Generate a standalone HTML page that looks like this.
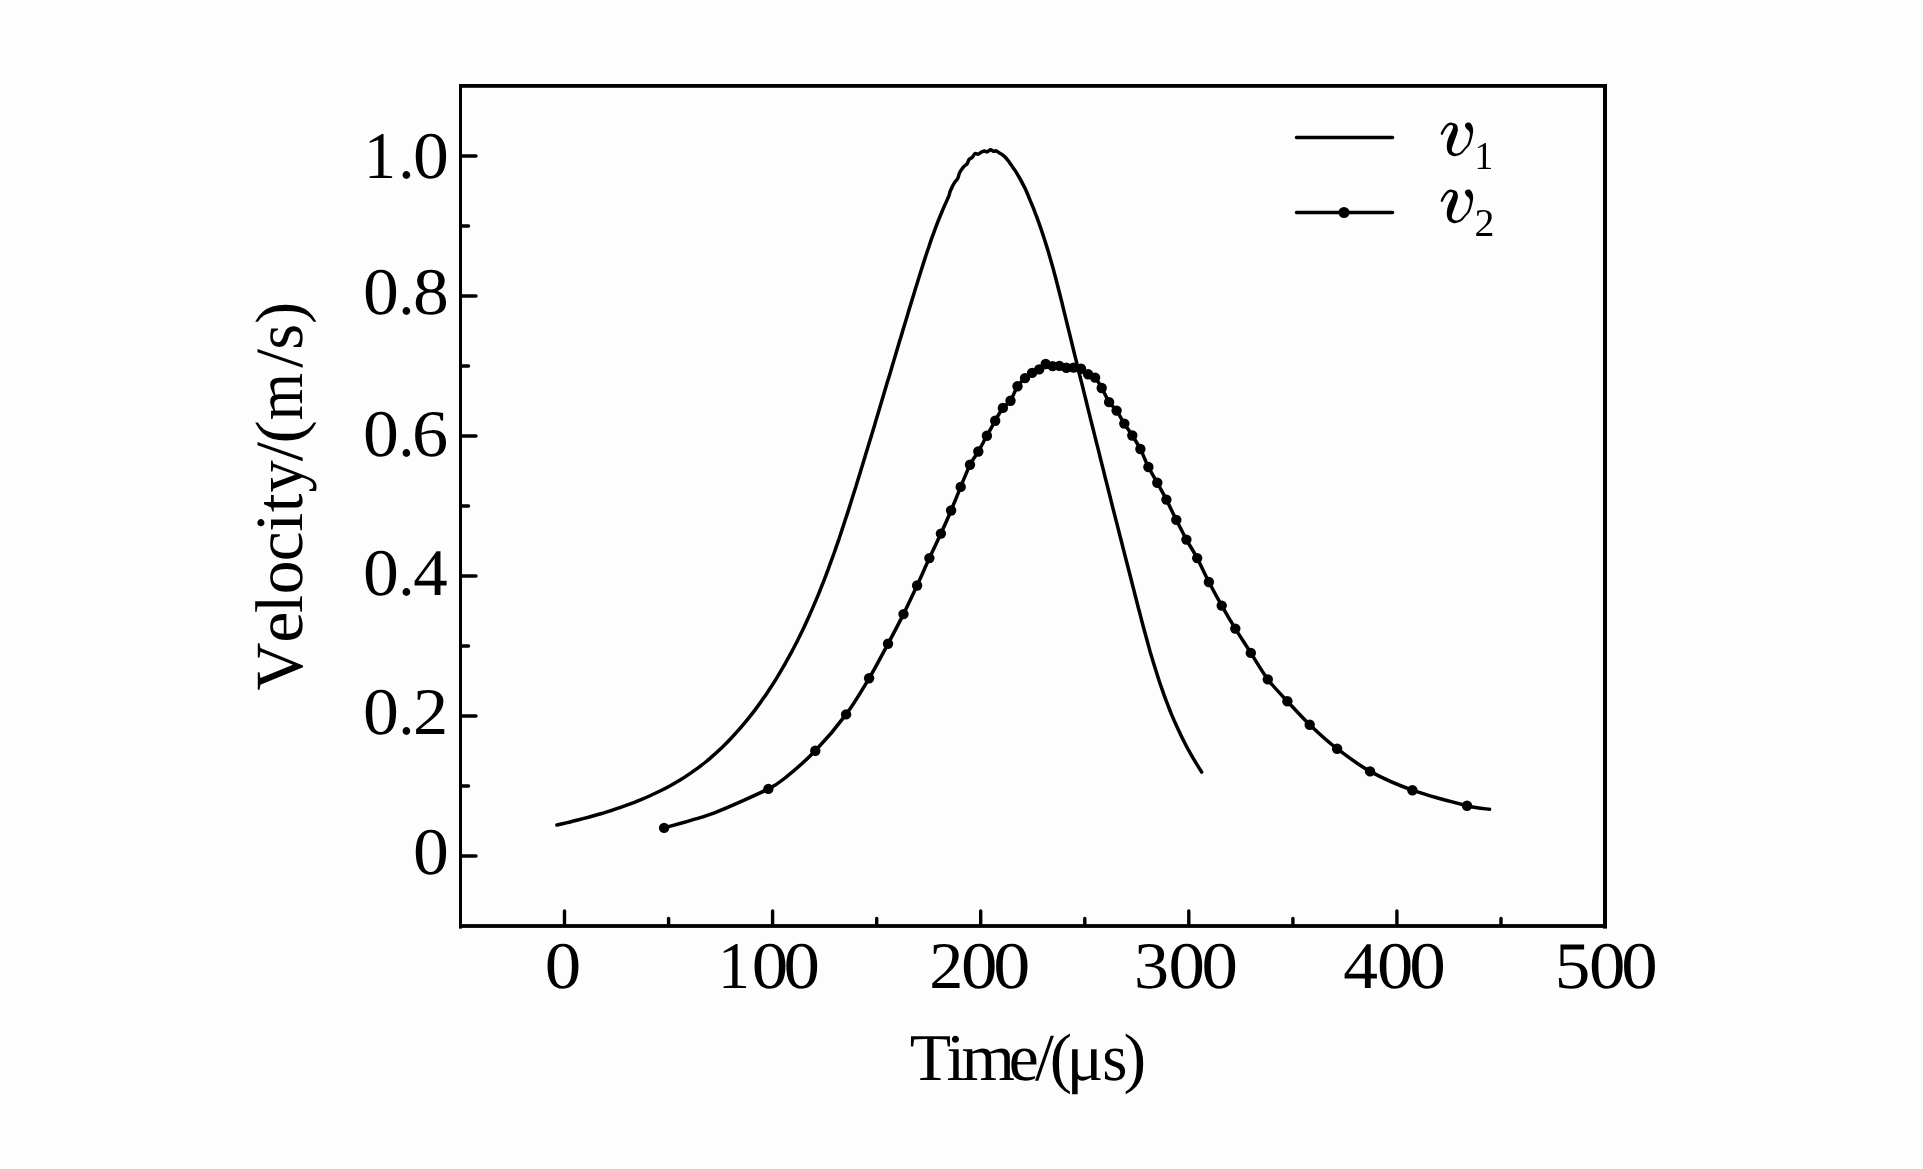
<!DOCTYPE html>
<html><head><meta charset="utf-8"><title>Velocity vs Time</title>
<style>
html,body{margin:0;padding:0;background:#fdfdfd;}
body{width:1923px;height:1169px;overflow:hidden;position:relative;font-family:"Liberation Serif",serif;}
svg{position:absolute;left:0;top:0;}
text{font-family:"Liberation Serif",serif;fill:#000;text-rendering:geometricPrecision;-webkit-font-smoothing:antialiased;}
</style></head><body>
<svg width="1923" height="1169" viewBox="0 0 1923 1169">
<g fill="#000" stroke="none"><rect x="459" y="84" width="3" height="844.6"/><rect x="459" y="84" width="1148" height="3.8"/><rect x="1603" y="84" width="4" height="844.6"/><rect x="459" y="924.1" width="1148" height="3.8"/></g><g stroke="#000" stroke-width="3.4" stroke-linecap="round" fill="none"><path d="M461,156.0H476.0"/><path d="M461,226.0H468.5"/><path d="M461,296.0H476.0"/><path d="M461,366.0H468.5"/><path d="M461,436.0H476.0"/><path d="M461,506.0H468.5"/><path d="M461,576.0H476.0"/><path d="M461,646.0H468.5"/><path d="M461,716.0H476.0"/><path d="M461,786.0H468.5"/><path d="M461,856.0H476.0"/><path d="M564.5,925V911.0"/><path d="M668.6,925V918.5"/><path d="M772.6,925V911.0"/><path d="M876.7,925V918.5"/><path d="M980.7,925V911.0"/><path d="M1084.8,925V918.5"/><path d="M1188.8,925V911.0"/><path d="M1292.9,925V918.5"/><path d="M1396.9,925V911.0"/><path d="M1501.0,925V918.5"/></g><g stroke="#000" stroke-width="3.5" stroke-linecap="round" stroke-linejoin="round" fill="none"><path d="M556.9,825.0C558.6,824.6 563.8,823.4 567.3,822.6C570.8,821.8 574.3,820.9 577.8,820.0C581.3,819.1 584.9,818.2 588.4,817.3C591.9,816.3 595.4,815.3 598.9,814.3C602.4,813.3 605.9,812.2 609.4,811.1C612.9,810.0 616.4,808.8 619.9,807.6C623.4,806.4 626.8,805.2 630.3,803.9C633.7,802.6 637.1,801.2 640.5,799.8C643.9,798.5 647.3,797.0 650.6,795.5C653.9,794.0 657.2,792.4 660.5,790.8C663.8,789.2 667.0,787.5 670.2,785.7C673.4,784.0 676.5,782.2 679.7,780.3C682.8,778.4 685.8,776.5 688.8,774.4C691.8,772.4 694.8,770.3 697.7,768.2C700.6,766.0 703.5,763.8 706.3,761.5C709.1,759.2 711.8,756.8 714.5,754.4C717.3,752.0 719.9,749.5 722.5,747.0C725.1,744.5 727.7,741.9 730.2,739.3C732.7,736.6 735.2,733.9 737.6,731.2C740.0,728.5 742.4,725.7 744.7,722.9C747.1,720.1 749.4,717.2 751.6,714.4C753.9,711.5 756.1,708.5 758.2,705.6C760.4,702.6 762.5,699.6 764.6,696.6C766.6,693.6 768.7,690.6 770.6,687.5C772.6,684.5 774.6,681.4 776.5,678.3C778.4,675.2 780.3,672.0 782.1,668.9C784.0,665.8 785.8,662.6 787.5,659.4C789.3,656.3 791.0,653.1 792.7,649.9C794.4,646.6 796.1,643.4 797.7,640.2C799.3,636.9 800.9,633.7 802.5,630.4C804.1,627.1 805.6,623.8 807.1,620.5C808.6,617.2 810.1,613.9 811.5,610.6C813.0,607.3 814.4,603.9 815.8,600.6C817.2,597.2 818.6,593.9 820.0,590.5C821.3,587.1 822.7,583.8 824.0,580.4C825.3,577.0 826.6,573.6 827.9,570.2C829.1,566.7 830.4,563.3 831.6,559.9C832.9,556.5 834.1,553.0 835.3,549.6C836.5,546.2 837.7,542.7 838.9,539.3C840.0,535.8 841.2,532.3 842.3,528.9C843.5,525.4 844.6,521.9 845.7,518.5C846.9,515.0 848.0,511.5 849.1,508.1C850.2,504.6 851.3,501.1 852.4,497.6C853.5,494.1 854.6,490.6 855.7,487.2C856.7,483.7 857.8,480.2 858.9,476.7C860.0,473.2 861.0,469.7 862.1,466.3C863.2,462.8 864.2,459.3 865.3,455.8C866.3,452.3 867.4,448.8 868.5,445.3C869.5,441.9 870.6,438.4 871.6,434.9C872.7,431.4 873.7,427.9 874.8,424.4C875.8,421.0 876.8,417.5 877.9,414.0C878.9,410.5 880.0,407.0 881.0,403.5C882.1,400.0 883.1,396.6 884.1,393.1C885.2,389.6 886.2,386.1 887.2,382.6C888.3,379.1 889.3,375.7 890.4,372.2C891.4,368.7 892.4,365.2 893.5,361.7C894.5,358.2 895.6,354.8 896.6,351.3C897.6,347.8 898.7,344.3 899.7,340.8C900.8,337.3 901.8,333.9 902.8,330.4C903.9,326.9 904.9,323.4 906.0,319.9C907.0,316.5 908.1,313.0 909.1,309.5C910.2,306.0 911.3,302.5 912.3,299.0C913.4,295.6 914.4,292.1 915.5,288.6C916.6,285.1 917.6,281.7 918.7,278.2C919.8,274.7 920.9,271.2 922.0,267.8C923.1,264.3 924.2,260.8 925.3,257.4C926.4,253.9 927.6,250.4 928.8,247.0C929.9,243.6 931.1,240.1 932.3,236.7C933.6,233.3 934.8,229.8 936.1,226.4C937.4,223.0 938.7,219.6 940.1,216.3C941.5,212.9 942.9,209.5 944.3,206.2C945.8,202.8 947.8,198.7 948.8,196.2C949.8,193.7 949.3,193.3 950.2,191.2C951.1,189.1 952.6,185.7 953.9,183.6C955.1,181.5 956.8,180.3 957.7,178.5C958.7,176.7 958.6,174.8 959.6,172.8C960.6,170.8 962.5,168.2 963.8,166.7C965.0,165.2 966.2,165.1 967.1,163.9C968.0,162.7 968.1,160.7 969.0,159.6C969.9,158.5 971.3,158.3 972.3,157.3C973.3,156.3 974.2,154.0 975.1,153.5C976.0,153.0 976.9,154.4 977.9,154.2C978.9,154.0 980.1,152.9 981.2,152.3C982.3,151.8 983.5,151.0 984.5,150.9C985.5,150.8 986.3,152.1 987.3,151.9C988.3,151.7 989.4,149.8 990.4,149.7C991.4,149.6 992.6,151.0 993.5,151.2C994.4,151.4 995.0,150.6 996.0,150.9C997.0,151.2 998.5,152.4 999.6,153.1C1000.8,153.8 1001.8,154.3 1002.9,155.2C1004.0,156.0 1005.1,157.0 1006.2,158.2C1007.3,159.4 1008.4,161.0 1009.5,162.5C1010.6,164.0 1011.6,165.6 1012.7,167.2C1013.8,168.8 1014.9,170.2 1016.0,171.9C1017.1,173.6 1018.2,175.6 1019.3,177.5C1020.4,179.4 1021.6,181.6 1022.6,183.6C1023.6,185.6 1024.4,186.8 1025.5,189.3C1026.6,191.8 1028.0,195.1 1029.3,198.3C1030.6,201.5 1032.1,205.0 1033.5,208.4C1034.8,211.8 1036.1,215.2 1037.4,218.6C1038.6,222.0 1039.8,225.4 1041.0,228.8C1042.2,232.3 1043.3,235.7 1044.4,239.2C1045.5,242.7 1046.6,246.1 1047.7,249.6C1048.7,253.1 1049.7,256.6 1050.7,260.1C1051.7,263.6 1052.7,267.1 1053.7,270.6C1054.6,274.2 1055.6,277.7 1056.5,281.2C1057.4,284.8 1058.3,288.3 1059.2,291.8C1060.1,295.4 1061.0,298.9 1061.9,302.4C1062.7,306.0 1063.6,309.5 1064.5,313.1C1065.3,316.6 1066.2,320.2 1067.1,323.7C1068.0,327.3 1068.8,330.8 1069.7,334.3C1070.6,337.9 1071.4,341.4 1072.3,345.0C1073.2,348.5 1074.0,352.0 1074.9,355.6C1075.8,359.1 1076.7,362.6 1077.5,366.2C1078.4,369.7 1079.3,373.3 1080.1,376.8C1081.0,380.3 1081.9,383.9 1082.8,387.4C1083.6,390.9 1084.5,394.4 1085.4,398.0C1086.3,401.5 1087.1,405.0 1088.0,408.6C1088.9,412.1 1089.8,415.6 1090.6,419.2C1091.5,422.7 1092.4,426.2 1093.3,429.7C1094.2,433.3 1095.0,436.8 1095.9,440.3C1096.8,443.8 1097.7,447.4 1098.6,450.9C1099.4,454.4 1100.3,458.0 1101.2,461.5C1102.1,465.0 1103.0,468.5 1103.9,472.1C1104.7,475.6 1105.6,479.1 1106.5,482.6C1107.4,486.2 1108.3,489.7 1109.2,493.2C1110.1,496.7 1111.0,500.3 1111.8,503.8C1112.7,507.3 1113.6,510.8 1114.5,514.4C1115.4,517.9 1116.3,521.4 1117.2,524.9C1118.1,528.5 1119.0,532.0 1119.9,535.5C1120.8,539.0 1121.7,542.6 1122.6,546.1C1123.5,549.6 1124.4,553.1 1125.3,556.7C1126.2,560.2 1127.1,563.7 1128.0,567.2C1128.9,570.8 1129.8,574.3 1130.7,577.8C1131.6,581.4 1132.5,584.9 1133.4,588.4C1134.3,591.9 1135.2,595.5 1136.1,599.0C1137.0,602.5 1137.9,606.1 1138.8,609.6C1139.8,613.1 1140.7,616.7 1141.6,620.2C1142.5,623.7 1143.5,627.3 1144.4,630.8C1145.4,634.3 1146.3,637.8 1147.3,641.3C1148.3,644.8 1149.2,648.4 1150.2,651.9C1151.3,655.4 1152.3,658.9 1153.3,662.3C1154.4,665.8 1155.5,669.3 1156.6,672.8C1157.7,676.2 1158.8,679.7 1159.9,683.1C1161.1,686.6 1162.3,690.0 1163.5,693.4C1164.7,696.9 1166.0,700.3 1167.3,703.7C1168.6,707.0 1169.9,710.4 1171.3,713.8C1172.7,717.1 1174.1,720.5 1175.6,723.8C1177.1,727.1 1178.6,730.4 1180.2,733.7C1181.7,737.0 1183.4,740.3 1185.0,743.5C1186.7,746.8 1188.4,750.0 1190.2,753.2C1192.0,756.4 1193.9,759.6 1195.8,762.7C1197.7,765.9 1200.7,770.5 1201.7,772.1"/><path d="M664.1,827.9C670.8,825.9 700.6,818.0 714.5,812.8C728.4,807.6 758.8,793.7 768.4,788.9C778.0,784.1 780.1,782.0 786.4,776.9C792.7,771.8 807.3,759.1 815.3,750.8C823.3,742.5 838.9,724.1 846.1,714.4C853.3,704.7 863.5,687.7 869.1,678.3C874.7,668.9 883.4,652.4 888.0,643.8C892.6,635.2 899.6,621.9 903.5,614.1C907.4,606.3 913.6,593.0 917.1,585.5C920.6,578.0 926.2,565.0 929.4,558.1C932.6,551.2 938.0,539.9 940.9,533.6C943.8,527.3 948.5,516.7 951.1,510.5C953.7,504.3 958.2,493.0 960.7,486.9C963.2,480.8 967.7,469.5 970.0,464.8C972.3,460.1 976.0,455.4 978.3,451.5C980.6,447.6 984.6,439.8 986.9,435.7C989.2,431.6 993.1,424.4 995.2,420.7C997.3,417.0 1000.9,410.6 1002.9,407.9C1004.9,405.2 1008.6,403.6 1010.5,400.7C1012.4,397.8 1015.6,389.3 1017.5,386.3C1019.4,383.3 1023.1,379.9 1025.0,378.1C1026.9,376.3 1030.2,374.1 1032.1,372.9C1034.0,371.7 1037.4,370.6 1039.2,369.4C1041.0,368.2 1043.9,364.4 1045.7,364.0C1047.5,363.6 1050.8,365.8 1052.6,366.1C1054.4,366.4 1057.6,365.7 1059.4,365.9C1061.2,366.1 1064.5,367.6 1066.4,367.8C1068.3,368.0 1071.6,367.5 1073.5,367.6C1075.4,367.7 1079.1,367.8 1081.0,368.7C1082.9,369.6 1086.2,373.1 1088.1,374.3C1090.0,375.5 1093.3,375.8 1095.1,377.6C1096.9,379.4 1099.8,384.7 1101.7,388.0C1103.6,391.3 1107.1,399.1 1109.1,402.1C1111.1,405.1 1114.6,407.7 1116.6,410.6C1118.6,413.5 1122.2,420.3 1124.3,423.6C1126.4,426.9 1130.2,432.1 1132.3,435.5C1134.4,438.9 1138.3,444.8 1140.4,449.0C1142.5,453.2 1146.1,462.5 1148.4,467.0C1150.7,471.5 1154.9,478.5 1157.3,482.8C1159.7,487.1 1163.9,494.7 1166.4,499.6C1168.9,504.5 1173.6,514.6 1176.3,519.9C1179.0,525.2 1183.6,534.5 1186.4,539.6C1189.2,544.7 1194.2,552.4 1197.2,558.1C1200.2,563.8 1205.6,575.7 1208.9,582.0C1212.2,588.3 1218.2,599.4 1221.7,605.6C1225.2,611.8 1231.4,622.3 1235.3,628.6C1239.2,634.9 1246.5,646.1 1250.8,652.9C1255.1,659.7 1262.9,672.9 1267.8,679.4C1272.7,685.9 1281.8,695.3 1287.4,701.3C1293.0,707.3 1303.1,718.4 1309.7,724.7C1316.3,731.0 1329.0,742.5 1337.1,748.7C1345.2,754.9 1360.1,765.9 1370.1,771.4C1380.1,776.9 1399.5,785.6 1412.4,790.2C1425.3,794.8 1456.7,803.2 1467.0,805.7C1477.3,808.2 1486.6,808.8 1489.6,809.3"/><path d="M1296.5,137.5H1392.5"/><path d="M1296.5,212.5H1392.5"/></g><g fill="#000"><circle cx="664.1" cy="827.9" r="5.2"/><circle cx="768.4" cy="788.9" r="5.2"/><circle cx="815.3" cy="750.8" r="5.2"/><circle cx="846.1" cy="714.4" r="5.2"/><circle cx="869.1" cy="678.3" r="5.2"/><circle cx="888.0" cy="643.8" r="5.2"/><circle cx="903.5" cy="614.1" r="5.2"/><circle cx="917.1" cy="585.5" r="5.2"/><circle cx="929.4" cy="558.1" r="5.2"/><circle cx="940.9" cy="533.6" r="5.2"/><circle cx="951.1" cy="510.5" r="5.2"/><circle cx="960.7" cy="486.9" r="5.2"/><circle cx="970.0" cy="464.8" r="5.2"/><circle cx="978.3" cy="451.5" r="5.2"/><circle cx="986.9" cy="435.7" r="5.2"/><circle cx="995.2" cy="420.7" r="5.2"/><circle cx="1002.9" cy="407.9" r="5.2"/><circle cx="1010.5" cy="400.7" r="5.2"/><circle cx="1017.5" cy="386.3" r="5.2"/><circle cx="1025.0" cy="378.1" r="5.2"/><circle cx="1032.1" cy="372.9" r="5.2"/><circle cx="1039.2" cy="369.4" r="5.2"/><circle cx="1045.7" cy="364.0" r="5.2"/><circle cx="1052.6" cy="366.1" r="5.2"/><circle cx="1059.4" cy="365.9" r="5.2"/><circle cx="1066.4" cy="367.8" r="5.2"/><circle cx="1073.5" cy="367.6" r="5.2"/><circle cx="1081.0" cy="368.7" r="5.2"/><circle cx="1088.1" cy="374.3" r="5.2"/><circle cx="1095.1" cy="377.6" r="5.2"/><circle cx="1101.7" cy="388.0" r="5.2"/><circle cx="1109.1" cy="402.1" r="5.2"/><circle cx="1116.6" cy="410.6" r="5.2"/><circle cx="1124.3" cy="423.6" r="5.2"/><circle cx="1132.3" cy="435.5" r="5.2"/><circle cx="1140.4" cy="449.0" r="5.2"/><circle cx="1148.4" cy="467.0" r="5.2"/><circle cx="1157.3" cy="482.8" r="5.2"/><circle cx="1166.4" cy="499.6" r="5.2"/><circle cx="1176.3" cy="519.9" r="5.2"/><circle cx="1186.4" cy="539.6" r="5.2"/><circle cx="1197.2" cy="558.1" r="5.2"/><circle cx="1208.9" cy="582.0" r="5.2"/><circle cx="1221.7" cy="605.6" r="5.2"/><circle cx="1235.3" cy="628.6" r="5.2"/><circle cx="1250.8" cy="652.9" r="5.2"/><circle cx="1267.8" cy="679.4" r="5.2"/><circle cx="1287.4" cy="701.3" r="5.2"/><circle cx="1309.7" cy="724.7" r="5.2"/><circle cx="1337.1" cy="748.7" r="5.2"/><circle cx="1370.1" cy="771.4" r="5.2"/><circle cx="1412.4" cy="790.2" r="5.2"/><circle cx="1467.0" cy="805.7" r="5.2"/><circle cx="1344" cy="212.5" r="5.5"/></g><text y="177.80" font-size="66.50"><tspan x="364.08" textLength="31.96" lengthAdjust="spacingAndGlyphs">1</tspan><tspan x="398.30" textLength="16.29" lengthAdjust="spacingAndGlyphs">.</tspan><tspan x="412.97" textLength="35.86" lengthAdjust="spacingAndGlyphs">0</tspan></text><text y="314.20" font-size="66.50"><tspan x="363.07" textLength="35.86" lengthAdjust="spacingAndGlyphs">0</tspan><tspan x="398.30" textLength="16.29" lengthAdjust="spacingAndGlyphs">.</tspan><tspan x="412.97" textLength="35.86" lengthAdjust="spacingAndGlyphs">8</tspan></text><text y="456.40" font-size="66.50"><tspan x="363.07" textLength="35.86" lengthAdjust="spacingAndGlyphs">0</tspan><tspan x="398.30" textLength="16.29" lengthAdjust="spacingAndGlyphs">.</tspan><tspan x="412.09" textLength="36.16" lengthAdjust="spacingAndGlyphs">6</tspan></text><text y="594.90" font-size="66.50"><tspan x="363.07" textLength="35.86" lengthAdjust="spacingAndGlyphs">0</tspan><tspan x="398.30" textLength="16.29" lengthAdjust="spacingAndGlyphs">.</tspan><tspan x="413.26" textLength="34.42" lengthAdjust="spacingAndGlyphs">4</tspan></text><text y="733.90" font-size="66.50"><tspan x="363.07" textLength="35.86" lengthAdjust="spacingAndGlyphs">0</tspan><tspan x="398.30" textLength="16.29" lengthAdjust="spacingAndGlyphs">.</tspan><tspan x="413.01" textLength="35.17" lengthAdjust="spacingAndGlyphs">2</tspan></text><text y="874.20" font-size="66.50"><tspan x="412.97" textLength="35.86" lengthAdjust="spacingAndGlyphs">0</tspan></text><text y="988.00" font-size="66.50"><tspan x="544.72" textLength="36.45" lengthAdjust="spacingAndGlyphs">0</tspan></text><text y="988.00" font-size="66.50"><tspan x="717.98" textLength="31.96" lengthAdjust="spacingAndGlyphs">1</tspan><tspan x="751.72" textLength="36.45" lengthAdjust="spacingAndGlyphs">0</tspan><tspan x="783.42" textLength="36.45" lengthAdjust="spacingAndGlyphs">0</tspan></text><text y="988.00" font-size="66.50"><tspan x="929.21" textLength="34.05" lengthAdjust="spacingAndGlyphs">2</tspan><tspan x="960.92" textLength="36.45" lengthAdjust="spacingAndGlyphs">0</tspan><tspan x="993.18" textLength="37.04" lengthAdjust="spacingAndGlyphs">0</tspan></text><text y="988.00" font-size="66.50"><tspan x="1134.05" textLength="34.98" lengthAdjust="spacingAndGlyphs">3</tspan><tspan x="1168.62" textLength="36.45" lengthAdjust="spacingAndGlyphs">0</tspan><tspan x="1201.42" textLength="36.45" lengthAdjust="spacingAndGlyphs">0</tspan></text><text y="988.00" font-size="66.50"><tspan x="1343.34" textLength="34.74" lengthAdjust="spacingAndGlyphs">4</tspan><tspan x="1377.03" textLength="36.34" lengthAdjust="spacingAndGlyphs">0</tspan><tspan x="1409.21" textLength="36.57" lengthAdjust="spacingAndGlyphs">0</tspan></text><text y="988.00" font-size="66.50"><tspan x="1554.76" textLength="35.62" lengthAdjust="spacingAndGlyphs">5</tspan><tspan x="1589.02" textLength="36.45" lengthAdjust="spacingAndGlyphs">0</tspan><tspan x="1621.22" textLength="36.45" lengthAdjust="spacingAndGlyphs">0</tspan></text><text y="1079.90" font-size="67.00"><tspan x="909.68" textLength="41.35" lengthAdjust="spacingAndGlyphs">T</tspan><tspan x="946.48" textLength="18.81" lengthAdjust="spacingAndGlyphs">i</tspan><tspan x="961.46" textLength="53.52" lengthAdjust="spacingAndGlyphs">m</tspan><tspan x="1008.76" textLength="29.98" lengthAdjust="spacingAndGlyphs">e</tspan><tspan x="1035.10" textLength="18.90" lengthAdjust="spacingAndGlyphs">/</tspan><tspan x="1049.86" textLength="22.30" lengthAdjust="spacingAndGlyphs">(</tspan><tspan x="1066.42" textLength="36.90" lengthAdjust="spacingAndGlyphs">μ</tspan><tspan x="1102.14" textLength="25.19" lengthAdjust="spacingAndGlyphs">s</tspan><tspan x="1123.50" textLength="22.69" lengthAdjust="spacingAndGlyphs">)</tspan></text><text transform="translate(302.30,0) rotate(-90)" font-size="67.50"><tspan x="-690.45" textLength="47.99" lengthAdjust="spacingAndGlyphs">V</tspan><tspan x="-642.74" textLength="31.18" lengthAdjust="spacingAndGlyphs">e</tspan><tspan x="-612.90" textLength="18.11" lengthAdjust="spacingAndGlyphs">l</tspan><tspan x="-594.37" textLength="33.74" lengthAdjust="spacingAndGlyphs">o</tspan><tspan x="-561.35" textLength="29.71" lengthAdjust="spacingAndGlyphs">c</tspan><tspan x="-531.74" textLength="19.04" lengthAdjust="spacingAndGlyphs">i</tspan><tspan x="-512.26" textLength="18.75" lengthAdjust="spacingAndGlyphs">t</tspan><tspan x="-492.49" textLength="32.24" lengthAdjust="spacingAndGlyphs">y</tspan><tspan x="-461.20" textLength="19.30" lengthAdjust="spacingAndGlyphs">/</tspan><tspan x="-443.56" textLength="23.21" lengthAdjust="spacingAndGlyphs">(</tspan><tspan x="-420.17" textLength="47.12" lengthAdjust="spacingAndGlyphs">m</tspan><tspan x="-367.70" textLength="18.80" lengthAdjust="spacingAndGlyphs">/</tspan><tspan x="-349.82" textLength="25.82" lengthAdjust="spacingAndGlyphs">s</tspan><tspan x="-324.03" textLength="22.04" lengthAdjust="spacingAndGlyphs">)</tspan></text><path id="vg" aria-label="v" transform="translate(1430,110) scale(0.05988)" d="M180,390C185,369 215,318 235,290C255,262 278,235 300,222C322,209 342,209 365,212C388,215 421,221 438,240C455,259 466,293 466,325C466,357 451,394 440,430C429,466 412,503 400,540C388,577 368,623 365,650C362,677 369,688 380,700C391,712 412,722 430,725C448,728 468,728 490,715C512,702 538,673 560,650C582,627 606,606 622,578C638,550 648,510 655,480C662,450 668,422 667,400C666,378 659,365 648,348C637,331 611,317 600,300C589,283 580,262 583,248C586,234 605,219 620,214C635,209 657,207 672,218C687,229 704,258 712,282C720,306 722,330 720,360C718,390 712,423 702,460C692,497 679,548 662,580C645,612 622,627 600,652C578,677 555,713 530,732C505,751 473,760 450,766C427,772 411,773 390,768C369,763 339,754 322,736C305,718 292,691 286,662C280,633 280,596 284,562C288,528 299,490 310,460C321,430 338,408 350,380C362,352 382,313 385,292C388,271 378,261 366,256C354,251 331,250 312,262C293,274 270,304 252,330C234,356 219,406 207,416C195,426 175,411 180,390Z" fill="#000"/><path transform="translate(1430,177) scale(0.05988)" d="M180,390C185,369 215,318 235,290C255,262 278,235 300,222C322,209 342,209 365,212C388,215 421,221 438,240C455,259 466,293 466,325C466,357 451,394 440,430C429,466 412,503 400,540C388,577 368,623 365,650C362,677 369,688 380,700C391,712 412,722 430,725C448,728 468,728 490,715C512,702 538,673 560,650C582,627 606,606 622,578C638,550 648,510 655,480C662,450 668,422 667,400C666,378 659,365 648,348C637,331 611,317 600,300C589,283 580,262 583,248C586,234 605,219 620,214C635,209 657,207 672,218C687,229 704,258 712,282C720,306 722,330 720,360C718,390 712,423 702,460C692,497 679,548 662,580C645,612 622,627 600,652C578,677 555,713 530,732C505,751 473,760 450,766C427,772 411,773 390,768C369,763 339,754 322,736C305,718 292,691 286,662C280,633 280,596 284,562C288,528 299,490 310,460C321,430 338,408 350,380C362,352 382,313 385,292C388,271 378,261 366,256C354,251 331,250 312,262C293,274 270,304 252,330C234,356 219,406 207,416C195,426 175,411 180,390Z" fill="#000"/><g style="filter:brightness(1)"><text y="169.00" font-size="39.50"><tspan x="1474.60" textLength="18.75" lengthAdjust="spacingAndGlyphs">1</tspan></text><text y="236.00" font-size="39.30"><tspan x="1474.55" textLength="19.96" lengthAdjust="spacingAndGlyphs">2</tspan></text></g></svg>
</body></html>
